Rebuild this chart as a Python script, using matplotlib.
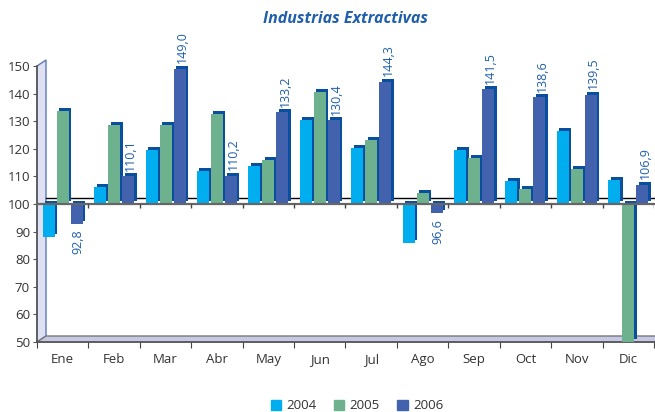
import matplotlib
matplotlib.use("Agg")
import matplotlib.pyplot as plt
from matplotlib.patches import Polygon, Rectangle
from matplotlib.transforms import offset_copy

months = ["Ene", "Feb", "Mar", "Abr", "May", "Jun", "Jul", "Ago", "Sep", "Oct", "Nov", "Dic"]
v2004 = [88.0, 106.2, 119.6, 112.0, 113.8, 130.4, 120.3, 85.8, 119.6, 108.3, 126.4, 108.7]
v2005 = [133.6, 128.6, 128.6, 132.6, 115.9, 140.6, 123.2, 104.0, 116.7, 105.4, 112.7, 50.0]
v2006 = [92.8, 110.1, 149.0, 110.2, 133.2, 130.4, 144.3, 96.6, 141.5, 138.6, 139.5, 106.9]
years = ["2004", "2005", "2006"]
base = 100

colors = ["#00aeef", "#6db18f", "#4262ae"]
dark = "#0a4f9e"
label_blue = "#1f5faa"
text_gray = "#333333"

plt.rcParams["font.family"] = ["Open Sans", "DejaVu Sans"]

fig = plt.figure(figsize=(6.55, 4.12), dpi=100)
ax = fig.add_axes([37 / 655, 70 / 412, 617 / 655, 276 / 412])
ax.set_xlim(-0.5, 11.5)
ax.set_ylim(50, 150)
for s in ax.spines.values():
    s.set_visible(False)

# 3D frame: left wall and floor (axes fraction)
dx, dy = 9 / 617, 6 / 276
wall = Polygon([(0, 0), (0, 1), (dx, 1 + dy), (dx, dy)], closed=True,
               transform=ax.transAxes, facecolor="#dfe1f2", edgecolor="#5a78c0",
               lw=1, clip_on=False, zorder=0)
floor = Polygon([(0, 0), (1, 0), (1 + dx, dy), (dx, dy)], closed=True,
                transform=ax.transAxes, facecolor="#c6c9e6", edgecolor="#777777",
                lw=1, clip_on=False, zorder=0)
ax.add_patch(wall)
ax.add_patch(floor)
ax.plot([0, 0], [0, 1], transform=ax.transAxes, color="#555555", lw=1.2,
        clip_on=False, zorder=1)
ax.plot([0, 1], [0, 0], transform=ax.transAxes, color="#555555", lw=1.2,
        clip_on=False, zorder=1)

# back-wall line at 100
back = offset_copy(ax.transData, fig=fig, x=9, y=6, units="dots")
ax.plot([-0.5, 11.5], [base, base], transform=back, color="black", lw=1,
        clip_on=False, zorder=1)

width = 0.233
step = 0.272
depth = offset_copy(ax.transData, fig=fig, x=2.5, y=3, units="dots")
for k, vals in enumerate([v2004, v2005, v2006]):
    xs = [i + (k - 1) * step for i in range(len(months))]
    heights = [v - base for v in vals]
    bk = ax.bar(xs, heights, width=width, bottom=base, color=dark, zorder=2 + 2 * k)
    for p in bk:
        p.set_transform(depth)
    ax.bar(xs, heights, width=width, bottom=base, color=colors[k], zorder=3 + 2 * k)

# front axis line at 100 with category ticks
ax.plot([-0.5, 11.5], [base, base], color="#666666", lw=1.6, zorder=9, clip_on=False)
bounds = [i + 0.5 for i in range(-1, 12)]
ax.vlines(bounds[1:], base - 1.4, base, color="#444444", lw=1, zorder=9)

# 2006 value labels
for i, v in enumerate(v2006):
    x = i + step
    txt = f"{v:.1f}".replace(".", ",")
    if v >= base:
        ax.annotate(txt, (x, v), xytext=(2, 4), textcoords="offset points",
                    rotation=90, ha="center", va="bottom", color=label_blue,
                    fontsize=9, zorder=10)
    else:
        ax.annotate(txt, (x, v), xytext=(1, -4), textcoords="offset points",
                    rotation=90, ha="center", va="top", color=label_blue,
                    fontsize=9, zorder=10)

ax.set_yticks(range(50, 151, 10))
ax.tick_params(axis="y", length=3, color="#555555", labelsize=9.5,
               labelcolor=text_gray, pad=2)
ax.set_xticks(bounds)
ax.set_xticklabels([])
ax.set_xticks(range(len(months)), minor=True)
ax.set_xticklabels(months, minor=True)
ax.tick_params(axis="x", which="major", length=4, color="#444444")
ax.tick_params(axis="x", which="minor", length=0, labelsize=9.5,
               labelcolor=text_gray, pad=8)

fig.text(0.527, 0.955, "Industrias Extractivas", ha="center", va="center",
         fontsize=11.5, fontweight="bold", fontstyle="italic", color="#1f5faa")

handles = [Rectangle((0, 0), 1, 1, color=c) for c in colors]
fig.legend(handles, years, loc="lower center", bbox_to_anchor=(0.545, -0.03),
           ncol=3, frameon=False, handlelength=0.8, handleheight=0.8,
           handletextpad=0.4, columnspacing=1.3, fontsize=9.5,
           labelcolor=text_gray)

fig.savefig("out.png", dpi=100)
